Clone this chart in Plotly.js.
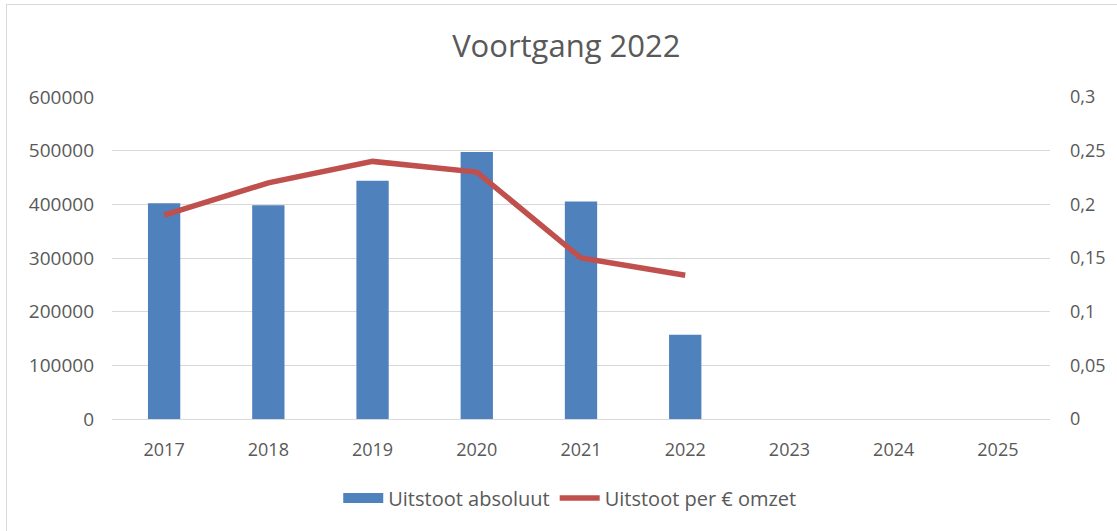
<!DOCTYPE html>
<html>
<head>
<meta charset="utf-8">
<script src="https://cdn.plot.ly/plotly-3.0.1.min.js"></script>
<style>
  html, body { margin: 0; padding: 0; background: #fff; overflow: hidden; }
  #wrap { position: relative; width: 1117px; height: 531px; overflow: hidden; }
  #chart { width: 1117px; height: 531px; }
  #frame { position: absolute; left: 6px; top: 4px; width: 1130px; height: 540px; border: 1px solid #d9d9d9; pointer-events: none; }
</style>
</head>
<body>
<div id="wrap">
  <div id="chart"></div>
  <div id="frame"></div>
</div>
<script>
const years = ['2017', '2018', '2019', '2020', '2021', '2022', '2023', '2024', '2025'];
const absoluteValues = [402000, 398500, 444000, 497700, 405200, 157200, null, null, null];
const perEuroValues = [0.19, 0.22, 0.24, 0.23, 0.15, 0.134];
const lineYears = ['2017', '2018', '2019', '2020', '2021', '2022'];
const leftTickVals = [0, 100000, 200000, 300000, 400000, 500000, 600000];
const leftTickText = ['0', '100000', '200000', '300000', '400000', '500000', '600000'];
const rightTickVals = [0, 0.05, 0.1, 0.15, 0.2, 0.25, 0.3];
const rightTickText = ['0', '0,05', '0,1', '0,15', '0,2', '0,25', '0,3'];

const textColor = '#595959';
const fontFam = '"Open Sans", "Liberation Sans", sans-serif';
const barColor = '#4F81BD';
const lineColor = '#C0504D';

const traces = [
  {
    type: 'bar',
    name: 'Uitstoot absoluut',
    x: years,
    y: absoluteValues,
    marker: { color: barColor },
    yaxis: 'y',
    showlegend: false
  },
  {
    // legend entry for the bars (wide rectangle swatch as in the reference)
    type: 'scatter',
    mode: 'lines',
    name: 'Uitstoot absoluut',
    x: years,
    y: years.map(() => null),
    line: { color: barColor, width: 12 },
    yaxis: 'y',
    showlegend: true
  },
  {
    type: 'scatter',
    mode: 'lines',
    name: 'Uitstoot per € omzet',
    x: lineYears,
    y: perEuroValues,
    line: { color: lineColor, width: 5.5 },
    yaxis: 'y2',
    showlegend: true
  }
];

const layout = {
  width: 1117,
  height: 531,
  margin: { l: 112, r: 67, t: 97, b: 112 },
  paper_bgcolor: '#ffffff',
  plot_bgcolor: '#ffffff',
  font: { family: fontFam, color: textColor, size: 18 },
  title: {
    text: 'Voortgang 2022',
    font: { family: fontFam, size: 31, color: textColor },
    x: 0.507, xref: 'container', xanchor: 'center',
    y: 0.913, yref: 'container', yanchor: 'middle'
  },
  bargap: 0.69,
  xaxis: {
    type: 'category',
    categoryorder: 'array',
    categoryarray: years,
    range: [-0.5, 8.5],
    showgrid: false,
    showline: true,
    linecolor: '#d9d9d9',
    linewidth: 1,
    ticks: '',
    ticklabelstandoff: 14,
    tickfont: { family: fontFam, size: 18, color: textColor },
    zeroline: false
  },
  yaxis: {
    range: [0, 600000],
    tickvals: leftTickVals,
    ticktext: leftTickText,
    showgrid: true,
    gridcolor: '#d9d9d9',
    gridwidth: 1,
    zeroline: false,
    showline: false,
    ticks: '',
    ticklabelstandoff: 17,
    tickfont: { family: fontFam, size: 19, color: textColor }
  },
  yaxis2: {
    overlaying: 'y',
    side: 'right',
    range: [0, 0.3],
    tickvals: rightTickVals,
    ticktext: rightTickText,
    showgrid: false,
    zeroline: false,
    showline: false,
    ticks: '',
    ticklabelstandoff: 19,
    tickfont: { family: fontFam, size: 18, color: textColor }
  },
  showlegend: true,
  legend: {
    orientation: 'h',
    x: 0.488, xanchor: 'center',
    y: -0.245, yanchor: 'middle',
    font: { family: fontFam, size: 20, color: textColor },
    itemwidth: 40,
    traceorder: 'normal'
  }
};

Plotly.newPlot('chart', traces, layout, { displayModeBar: false, staticPlot: true });
</script>
</body>
</html>
